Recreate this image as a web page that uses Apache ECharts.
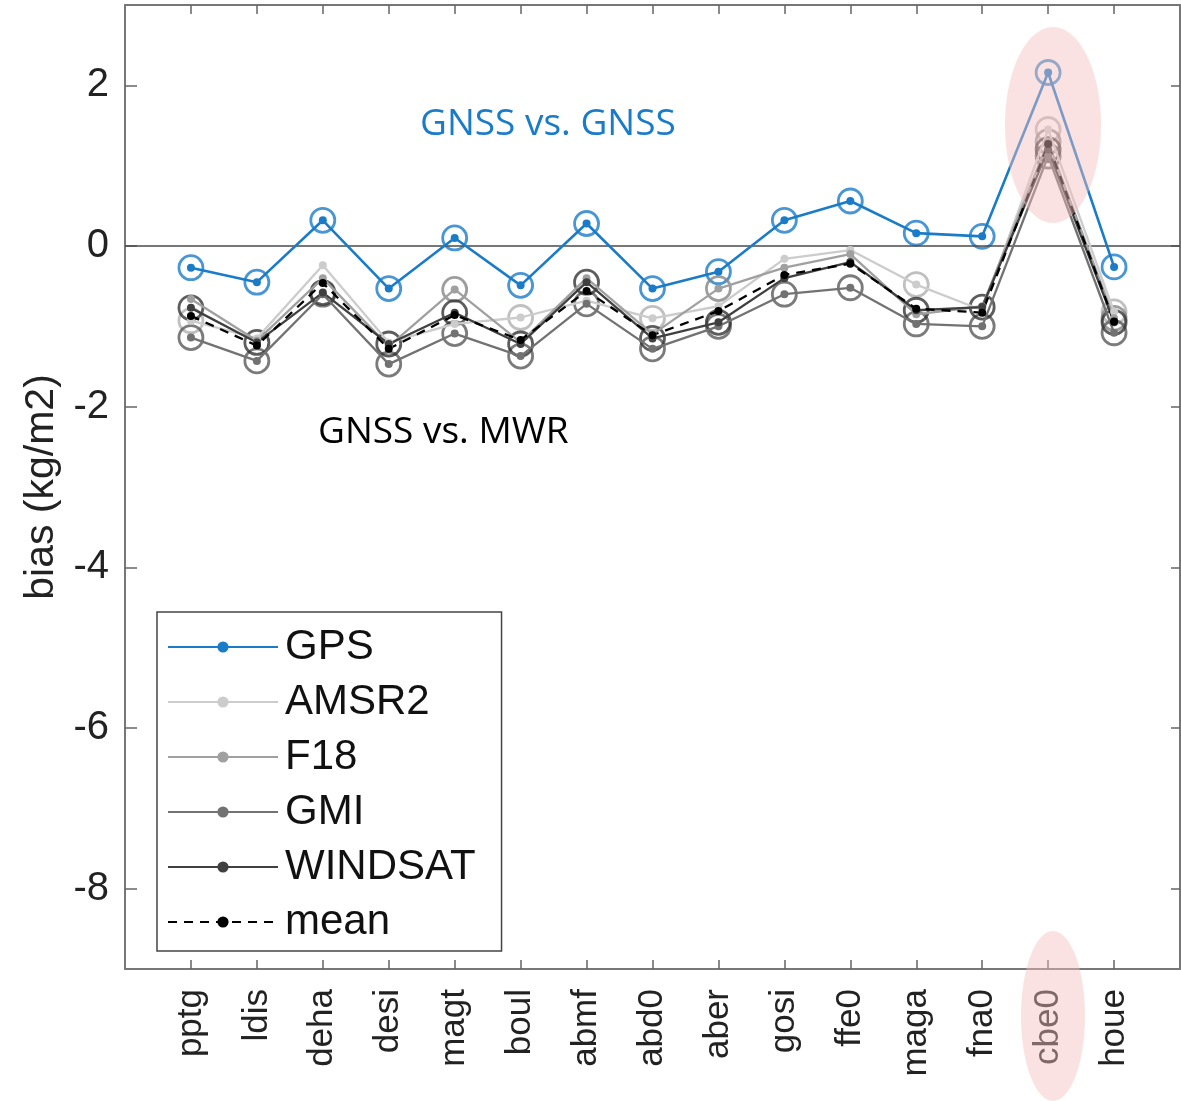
<!DOCTYPE html>
<html>
<head>
<meta charset="utf-8">
<script src="https://cdn.jsdelivr.net/npm/echarts@6/dist/echarts.min.js"></script>
<style>
  html, body { margin: 0; padding: 0; background: #fff; }
  #chart { width: 1181px; height: 1101px; }
</style>
</head>
<body>
<div id="chart"></div>
<script>
// stations on the x axis
const stations = ['pptg', 'ldis', 'deha', 'desi', 'magt', 'boul', 'abmf', 'abd0', 'aber', 'gosi', 'ffe0', 'maga', 'fna0', 'cbe0', 'houe']

// bias values (kg/m2)
const gps     = [-0.27, -0.45, 0.32, -0.53, 0.10, -0.49, 0.28, -0.53, -0.32, 0.32, 0.56, 0.16, 0.12, 2.16, -0.26]
const amsr2   = [-0.93, -1.15, -0.24, -1.20, -0.97, -0.89, -0.68, -0.90, -0.75, -0.16, -0.05, -0.48, -0.80, 1.45, -0.82]
const f18     = [-0.66, -1.18, -0.40, -1.25, -0.54, -1.20, -0.40, -1.10, -0.53, -0.27, -0.10, -0.85, -0.75, 1.30, -0.90]
const gmi     = [-1.14, -1.43, -0.60, -1.47, -1.09, -1.37, -0.72, -1.28, -1.00, -0.60, -0.52, -0.97, -1.00, 1.12, -1.08]
const windsat = [-0.77, -1.20, -0.58, -1.22, -0.83, -1.22, -0.45, -1.15, -0.95, -0.40, -0.20, -0.80, -0.76, 1.20, -0.95]
const mean    = [-0.87, -1.24, -0.46, -1.28, -0.86, -1.17, -0.56, -1.11, -0.81, -0.36, -0.22, -0.78, -0.83, 1.27, -0.94]

// which points carry an open circle
const gpsRing     = [1, 1, 1, 1, 1, 1, 1, 1, 1, 1, 1, 1, 1, 1, 1]
const amsr2Ring   = [1, 0, 0, 0, 0, 1, 0, 1, 0, 0, 0, 1, 0, 1, 1]
const f18Ring     = [0, 0, 0, 0, 1, 0, 0, 0, 1, 0, 0, 0, 0, 1, 1]
const gmiRing     = [1, 1, 1, 1, 1, 1, 1, 1, 1, 1, 1, 1, 1, 1, 1]
const windsatRing = [1, 1, 1, 1, 1, 1, 1, 1, 1, 0, 0, 1, 1, 1, 1]

const yTicks = [-8, -6, -4, -2, 0, 2]
const xTicks = stations.map((s, i) => i + 1)

const chart = echarts.init(document.getElementById('chart'))

const font = 'Liberation Sans, Arial, sans-serif'

const toPoints = arr => arr.map((v, i) => [i + 1, v])
const toRings = (arr, flags) => arr.map((v, i) => [i + 1, v]).filter((p, i) => flags[i])

const lineSeries = (name, data, color, width, dashed) => ({
  name,
  type: 'line',
  data: toPoints(data),
  symbol: 'circle',
  symbolSize: 8,
  z: 5,
  lineStyle: { color, width, type: dashed ? [9, 7] : 'solid' },
  itemStyle: { color },
  emphasis: { disabled: true }
})

const ringSeries = (data, flags, color) => ({
  type: 'scatter',
  data: toRings(data, flags),
  symbol: 'circle',
  symbolSize: 24,
  z: 3,
  itemStyle: { color: 'transparent', borderColor: color, borderWidth: 2.8 },
  emphasis: { disabled: true }
})

const frameLine = { onZero: false, lineStyle: { color: '#777', width: 2 } }
const frameTick = (len, values) => ({ show: true, inside: true, length: len, customValues: values, lineStyle: { color: '#666', width: 1.5 } })

const option = {
  animation: false,
  backgroundColor: '#fff',
  grid: { left: 125, right: 1, top: 5, bottom: 132 },
  xAxis: [
    {
      type: 'value',
      min: 0,
      max: 16,
      position: 'bottom',
      axisLine: frameLine,
      axisTick: frameTick(9, xTicks),
      axisLabel: {
        customValues: xTicks,
        rotate: 90,
        margin: 20,
        fontSize: 35,
        fontFamily: font,
        color: '#222',
        formatter: v => stations[v - 1] || ''
      },
      splitLine: { show: false }
    },
    {
      type: 'value',
      min: 0,
      max: 16,
      position: 'top',
      axisLine: frameLine,
      axisTick: frameTick(9, xTicks),
      axisLabel: { show: false },
      splitLine: { show: false }
    }
  ],
  yAxis: [
    {
      type: 'value',
      min: -9,
      max: 3,
      position: 'left',
      name: 'bias (kg/m2)',
      nameLocation: 'middle',
      nameGap: 62,
      nameTextStyle: { fontSize: 41, fontFamily: font, color: '#222' },
      axisLine: Object.assign({ show: true }, frameLine),
      axisTick: frameTick(12, yTicks),
      axisLabel: { customValues: yTicks, fontSize: 40, fontFamily: font, color: '#222', margin: 16 },
      splitLine: { show: false }
    },
    {
      type: 'value',
      min: -9,
      max: 3,
      position: 'right',
      axisLine: Object.assign({ show: true }, frameLine),
      axisTick: frameTick(9, yTicks),
      axisLabel: { show: false },
      splitLine: { show: false }
    }
  ],
  legend: {
    data: ['GPS', 'AMSR2', 'F18', 'GMI', 'WINDSAT', 'mean'],
    orient: 'vertical',
    left: 157,
    top: 612,
    itemWidth: 110,
    itemHeight: 14,
    itemGap: 13,
    padding: [14, 26, 8, 10],
    backgroundColor: '#fff',
    borderColor: '#444',
    borderWidth: 1.5,
    borderRadius: 0,
    selectedMode: false,
    textStyle: { fontSize: 42, fontFamily: font, color: '#111', lineHeight: 40, padding: [0, 0, 0, 2] }
  },
  series: [
    ringSeries(gps, gpsRing, '#1a7cc9'),
    ringSeries(amsr2, amsr2Ring, '#b0b0b0'),
    ringSeries(f18, f18Ring, '#858585'),
    ringSeries(gmi, gmiRing, '#5a5a5a'),
    ringSeries(windsat, windsatRing, '#353535'),
    lineSeries('AMSR2', amsr2, '#cccccc', 2.3),
    lineSeries('F18', f18, '#a0a0a0', 2.3),
    lineSeries('GMI', gmi, '#727272', 2.3),
    lineSeries('WINDSAT', windsat, '#404040', 2.3),
    lineSeries('mean', mean, '#000000', 2.3, true),
    Object.assign(lineSeries('GPS', gps, '#1a7cc9', 2.6), {
      markLine: {
        silent: true,
        symbol: 'none',
        label: { show: false },
        lineStyle: { color: '#4a4a4a', width: 1.6, type: 'solid' },
        data: [{ yAxis: 0 }]
      }
    })
  ],
  graphic: [
    {
      type: 'text',
      left: 420,
      top: 106,
      style: { text: 'GNSS vs. GNSS', fill: '#1a7cc9', fontSize: 37, fontFamily: 'Open Sans, sans-serif' }
    },
    {
      type: 'text',
      left: 318,
      top: 414,
      style: { text: 'GNSS vs. MWR', fill: '#000', fontSize: 37, fontFamily: 'Open Sans, sans-serif' }
    },
    {
      type: 'ellipse',
      z: 100,
      silent: true,
      shape: { cx: 1053, cy: 125, rx: 48, ry: 98 },
      style: { fill: 'rgba(245,190,190,0.45)' }
    },
    {
      type: 'ellipse',
      z: 100,
      silent: true,
      shape: { cx: 1053, cy: 1016, rx: 32, ry: 85 },
      style: { fill: 'rgba(245,190,190,0.45)' }
    }
  ]
}

chart.setOption(option)
</script>
</body>
</html>
